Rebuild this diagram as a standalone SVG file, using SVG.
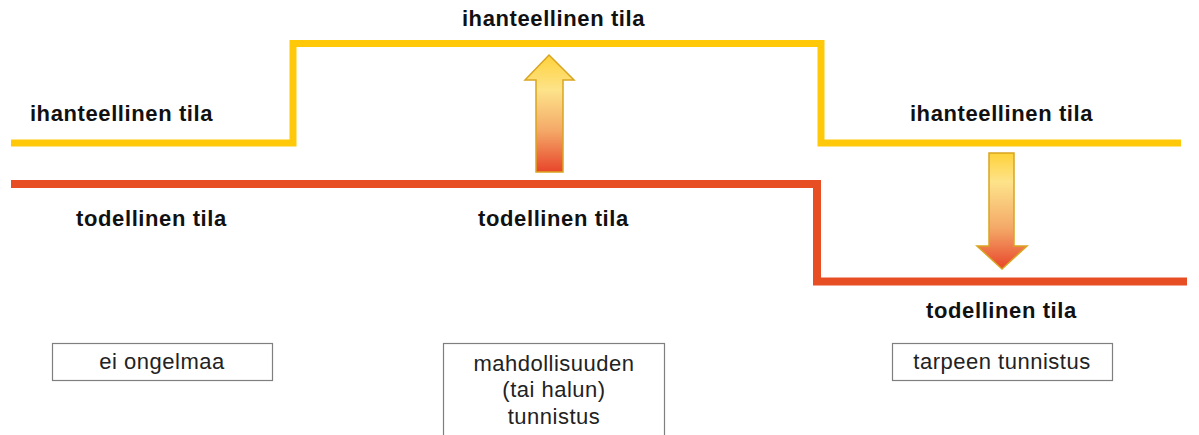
<svg xmlns="http://www.w3.org/2000/svg" width="1199" height="435" viewBox="0 0 1199 435">
<style>
.lbl{font-family:"Liberation Sans",Arial,sans-serif;font-weight:bold;font-size:22px;letter-spacing:0.6px;fill:#111;text-anchor:middle}
.box{fill:#fff;stroke:#7f7f7f;stroke-width:1.2}
.bt{font-family:"Liberation Sans",Arial,sans-serif;font-size:22px;letter-spacing:0.5px;fill:#222;text-anchor:middle}
.arr{stroke:#d9a520;stroke-width:1.5;stroke-linejoin:miter}
</style>
<defs>
<linearGradient id="gUp" x1="0" y1="0" x2="0" y2="1">
<stop offset="0" stop-color="#ffd23a"/>
<stop offset="0.3" stop-color="#fde38a"/>
<stop offset="0.65" stop-color="#f4a868"/>
<stop offset="1" stop-color="#e8452a"/>
</linearGradient>
<linearGradient id="gDown" x1="0" y1="0" x2="0" y2="1">
<stop offset="0" stop-color="#ffd23a"/>
<stop offset="0.25" stop-color="#fde38a"/>
<stop offset="0.65" stop-color="#f4a868"/>
<stop offset="1" stop-color="#e8452a"/>
</linearGradient>
</defs>
<g id="connectors">
<polyline id="ideal" points="11,143 293,143 293,43.5 821,43.5 821,143 1181,143" fill="none" stroke="#ffc90a" stroke-width="7"/>
<polyline id="actual" points="11,184 817,184 817,281.5 1187,281.5" fill="none" stroke="#e84e24" stroke-width="8"/>
</g>
<g id="arrow-up">
<polygon class="arr" fill="url(#gUp)" points="549,55 574,80 563,80 563,172 536,172 536,80 525,80"/>
</g>
<g id="arrow-down">
<polygon class="arr" fill="url(#gDown)" points="989,153 1014,153 1014,246 1027,246 1002,269 977,246 989,246"/>
</g>
<g id="labels">
<text class="lbl" x="121.5" y="121">ihanteellinen tila</text>
<text class="lbl" x="553.5" y="26">ihanteellinen tila</text>
<text class="lbl" x="1001.5" y="121">ihanteellinen tila</text>
<text class="lbl" x="151.5" y="226">todellinen tila</text>
<text class="lbl" x="553.5" y="226">todellinen tila</text>
<text class="lbl" x="1001.5" y="318">todellinen tila</text>
</g>
<g id="box-ei-ongelmaa">
<rect class="box" x="52.5" y="343.5" width="220" height="37"/>
<text class="bt" x="162" y="369">ei ongelmaa</text>
</g>
<g id="box-mahdollisuuden">
<rect class="box" x="443.5" y="343.5" width="221" height="100"/>
<text class="bt" x="554" y="371">mahdollisuuden</text>
<text class="bt" x="554" y="397">(tai halun)</text>
<text class="bt" x="554" y="424">tunnistus</text>
</g>
<g id="box-tarpeen">
<rect class="box" x="892.5" y="343.5" width="220" height="37"/>
<text class="bt" x="1002" y="369">tarpeen tunnistus</text>
</g>
</svg>
